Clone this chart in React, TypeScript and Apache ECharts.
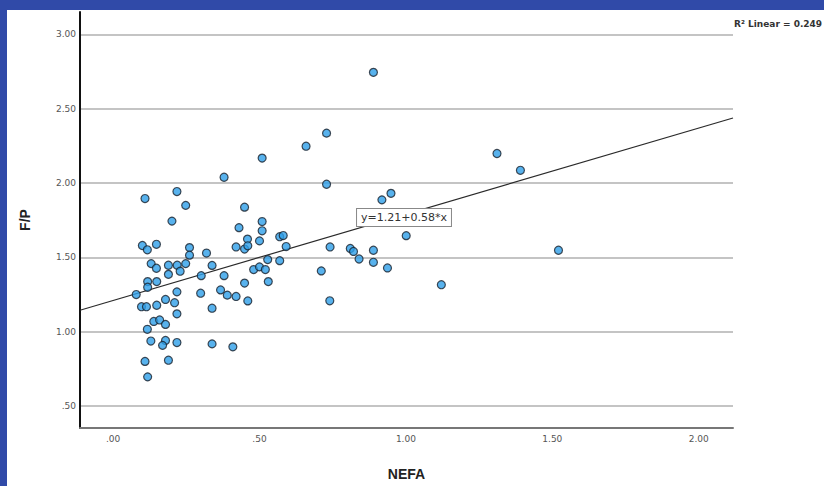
import React, { useEffect, useRef } from "react";
import * as echarts from "echarts";

const nefa = [
  0.218, 0.109, 0.248, 0.201, 0.100, 0.117, 0.148, 0.261, 0.261, 0.319,
  0.130, 0.148, 0.189, 0.219, 0.229, 0.248, 0.338, 0.189, 0.301, 0.118,
  0.149, 0.118, 0.079, 0.218, 0.299, 0.097, 0.114, 0.149, 0.179, 0.210,
  0.338, 0.218, 0.139, 0.159, 0.179, 0.117, 0.129, 0.179, 0.169, 0.218,
  0.338, 0.109, 0.189, 0.118,
  0.729, 0.659, 0.509, 0.379, 0.729, 0.449, 0.430, 0.509, 0.509, 0.459,
  0.500, 0.569, 0.581, 0.420, 0.449, 0.460, 0.591, 0.741, 0.528, 0.569,
  0.480, 0.500, 0.520, 0.711, 0.379, 0.449, 0.530, 0.367, 0.390, 0.420,
  0.460, 0.740, 0.409,
  0.889, 1.311, 1.391, 0.949, 0.918, 1.001, 0.810, 0.821, 0.889, 0.840,
  0.889, 0.937, 1.521, 1.121,
];
const fp = [
  1.943, 1.896, 1.850, 1.744, 1.580, 1.551, 1.588, 1.566, 1.515, 1.529,
  1.458, 1.427, 1.447, 1.447, 1.407, 1.458, 1.446, 1.386, 1.377, 1.337,
  1.337, 1.299, 1.250, 1.268, 1.259, 1.168, 1.168, 1.178, 1.217, 1.195,
  1.158, 1.120, 1.069, 1.079, 1.049, 1.016, 0.937, 0.941, 0.908, 0.927,
  0.918, 0.800, 0.808, 0.696,
  2.336, 2.248, 2.168, 2.039, 1.992, 1.838, 1.700, 1.741, 1.679, 1.623,
  1.611, 1.639, 1.647, 1.570, 1.556, 1.578, 1.573, 1.570, 1.485, 1.478,
  1.418, 1.436, 1.418, 1.409, 1.377, 1.327, 1.337, 1.281, 1.246, 1.237,
  1.207, 1.208, 0.898,
  2.745, 2.199, 2.086, 1.931, 1.887, 1.646, 1.560, 1.540, 1.548, 1.489,
  1.467, 1.429, 1.548, 1.316,
];

const xTicks = [0, 0.5, 1.0, 1.5, 2.0];
const yTicks = [0.5, 1.0, 1.5, 2.0, 2.5, 3.0];
const xRange = [-0.113, 2.117];
const yRange = [0.352, 3.151];
const intercept = 1.21;
const slope = 0.58;
const r2 = 0.249;
const equationText = "y=1.21+0.58*x";

const fmt = (v: number) => v.toFixed(2).replace(/^0/, "");

export default function App() {
  const ref = useRef<HTMLDivElement>(null);
  useEffect(() => {
    if (!ref.current) return;
    const chart = echarts.init(ref.current, null, { renderer: "svg" });
    const points = nefa.map((x, i) => [x, fp[i]]);
    const fitLine = [
      [xRange[0], intercept + slope * xRange[0]],
      [xRange[1], intercept + slope * xRange[1]],
    ];
    chart.setOption({
      animation: false,
      backgroundColor: "#ffffff",
      grid: { left: 80, right: 91, top: 12, bottom: 52, containLabel: false },
      xAxis: {
        type: "value",
        min: xRange[0],
        max: xRange[1],
        name: "NEFA",
        nameLocation: "middle",
        nameGap: 39,
        nameTextStyle: { fontFamily: "Liberation Sans", fontWeight: "bold", fontSize: 14, color: "#222" },
        axisLine: { show: true, onZero: false, lineStyle: { color: "#777", width: 2 } },
        axisTick: { show: false, customValues: xTicks },
        axisLabel: {
          customValues: xTicks,
          formatter: (v: number) => fmt(v),
          fontFamily: "DejaVu Sans",
          fontSize: 9,
          color: "#555",
          margin: 6,
        },
        splitLine: { show: false },
      },
      yAxis: {
        type: "value",
        min: yRange[0],
        max: yRange[1],
        name: "F/P",
        nameLocation: "middle",
        nameGap: 48,
        nameRotate: 90,
        nameTextStyle: { fontFamily: "Liberation Sans", fontWeight: "bold", fontSize: 14, color: "#222" },
        axisLine: { show: true, onZero: false, lineStyle: { color: "#111", width: 2 } },
        axisTick: { show: false, customValues: yTicks },
        axisLabel: {
          customValues: yTicks,
          formatter: (v: number) => fmt(v),
          fontFamily: "DejaVu Sans",
          fontSize: 9,
          color: "#555",
          margin: 4,
        },
        splitLine: { show: true, lineStyle: { color: "#c4c4c4", width: 2 } },
      },
      series: [
        {
          type: "line",
          data: fitLine,
          showSymbol: false,
          symbol: "none",
          lineStyle: { color: "#2a2a2a", width: 1.2 },
          z: 2,
          silent: true,
        },
        {
          type: "scatter",
          data: points,
          symbol: "circle",
          symbolSize: 8,
          itemStyle: { color: "#2e9fe8", borderColor: "#18202c", borderWidth: 1.2 },
          z: 3,
        },
      ],
      graphic: [
        { type: "rect", shape: { x: 0, y: 0, width: 824, height: 10 }, style: { fill: "#304aa8" }, z: 100 },
        { type: "rect", shape: { x: 0, y: 0, width: 7, height: 486 }, style: { fill: "#304aa8" }, z: 100 },
        {
          type: "text",
          x: 404,
          y: 217.5,
          z: 50,
          style: {
            text: equationText,
            fontFamily: "DejaVu Sans",
            fontSize: 11,
            fill: "#333",
            align: "center",
            verticalAlign: "middle",
            backgroundColor: "#fff",
            borderColor: "#888",
            borderWidth: 1,
            padding: [3, 4],
          },
        },
        {
          type: "text",
          x: 734,
          y: 24,
          z: 50,
          style: {
            text: "R² Linear = " + r2.toFixed(3),
            fontFamily: "DejaVu Sans",
            fontWeight: "bold",
            fontSize: 9,
            fill: "#333",
            align: "left",
            verticalAlign: "middle",
          },
        },
      ],
    });
    return () => chart.dispose();
  }, []);
  return (
    <div style={{ position: "fixed", left: 0, top: 0, width: 824, height: 486, background: "#fff" }}>
      <div ref={ref} style={{ width: 824, height: 486 }} />
    </div>
  );
}
